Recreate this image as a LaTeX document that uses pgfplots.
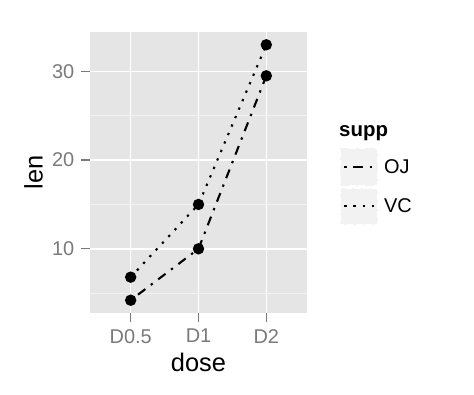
\documentclass[border=0pt]{standalone}
\usepackage{fontspec}
\setmainfont{Liberation Sans}
\usepackage{pgfplots}
\usepackage{pgfplotstable}
\pgfplotsset{compat=1.18}
\definecolor{panel}{HTML}{E5E5E5}
\definecolor{minorg}{HTML}{F2F2F2}
\definecolor{keybg}{HTML}{F2F2F2}
\definecolor{tickgray}{HTML}{7A7A7A}
\pgfplotstableread{
x OJ VC
0 4.2 6.8
1 10 15
2 29.5 33
}\data
\begin{document}
\begin{tikzpicture}
\path[use as bounding box, fill=white] (-90bp,-82bp) rectangle (384bp,313bp);
\begin{axis}[
  at={(0,0)}, anchor=south west,
  scale only axis, width=217bp, height=281bp,
  xmin=-0.6, xmax=2.6, ymin=2.76, ymax=34.44,
  axis background/.style={fill=panel},
  axis line style={draw=none},
  xtick={0,1,2}, xticklabels={D0.5,D1,D2},
  ytick={10,20,30}, minor ytick={5,15,25},
  grid=both,
  major grid style={white, line width=1.5bp},
  minor grid style={minorg, line width=0.8bp},
  tick pos=left, tick align=outside,
  major tick length=8.5bp, minor tick length=0pt,
  every tick/.style={tickgray, line width=1.4bp},
  /pgf/number format/assume math mode=true,
  ticklabel style={font=\fontsize{20}{24}\selectfont, text=tickgray, inner sep=0pt},
  xticklabel style={anchor=north, yshift=-7.5bp},
  yticklabel style={anchor=east, xshift=-7bp},
  xlabel={dose}, ylabel={len},
  label style={font=\fontsize{25.5}{30}\selectfont, inner sep=0pt},
  xlabel style={at={(axis description cs:0.5,0)}, anchor=base, yshift=-58.5bp},
  ylabel style={at={(axis description cs:0,0.5)}, anchor=base, rotate=0, yshift=47.3bp},
  legend style={at={(1.1521,0.5872)}, anchor=north west, draw=none, fill=none,
    inner sep=0pt, row sep=1.7bp, column sep=5.7bp,
    font=\fontsize{20}{24}\selectfont, cells={anchor=west}, nodes={inner sep=0pt}},
  legend image code/.code={\fill[keybg] (0bp,-17.8bp) rectangle (36bp,17.8bp); \draw[#1] (3bp,0bp) -- (33bp,0bp);},
]
\addplot[black, line width=2.1bp, dash pattern=on 2.3bp off 6.9bp on 9.2bp off 6.9bp,
  mark=*, mark size=4.6bp, mark options={solid, fill=black, draw=none}] table[x=x,y=OJ]{\data};
\addlegendentry{OJ}
\addplot[black, line width=2.1bp, dash pattern=on 2.3bp off 6.9bp,
  mark=*, mark size=4.6bp, mark options={solid, fill=black, draw=none}] table[x=x,y=VC]{\data};
\addlegendentry{VC}
\end{axis}
\node[anchor=base west, inner sep=0pt, font=\fontsize{20.5}{24}\selectfont\bfseries] at (249bp,176bp) {supp};
\end{tikzpicture}
\end{document}
